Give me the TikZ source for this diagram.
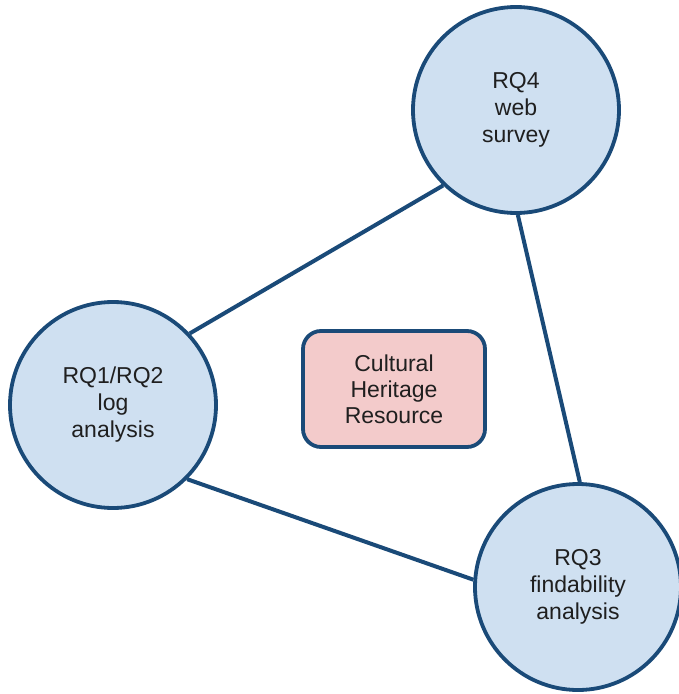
\documentclass[tikz,border=0pt]{standalone}
\usepackage{fontspec}
\setmainfont{Liberation Sans}
\definecolor{circfill}{HTML}{CFE0F1}
\definecolor{navy}{HTML}{1A4A78}
\definecolor{pinkfill}{HTML}{F3CBCB}
\begin{document}
\begin{tikzpicture}[x=1pt,y=-1pt,
  rq/.style={circle,draw=navy,fill=circfill,line width=3.8pt,minimum size=206pt,inner sep=0pt,align=center,font=\fontsize{23}{27}\selectfont,text=black!88},
  res/.style={rectangle,rounded corners=18pt,draw=navy,fill=pinkfill,line width=3.8pt,minimum width=182pt,minimum height=116pt,inner sep=0pt,align=center,font=\fontsize{23}{26}\selectfont,text=black!88},
  link/.style={draw=navy,line width=4pt}]
\useasboundingbox (0,0) rectangle (679,694);
\node[rq] (q4) at (516,110) {RQ4\\web\\survey};
\node[rq] (q1) at (113,405) {RQ1/RQ2\\log\\analysis};
\node[rq] (q3) at (578,587) {RQ3\\findability\\analysis};
\node[res] (chr) at (394,389) {Cultural\\Heritage\\Resource};
\draw[link] (q4.226) -- (q1.43);
\draw[link] (q4.271) -- (q3.89);
\draw[link] (q1.315) -- (q3.176);
\end{tikzpicture}
\end{document}
